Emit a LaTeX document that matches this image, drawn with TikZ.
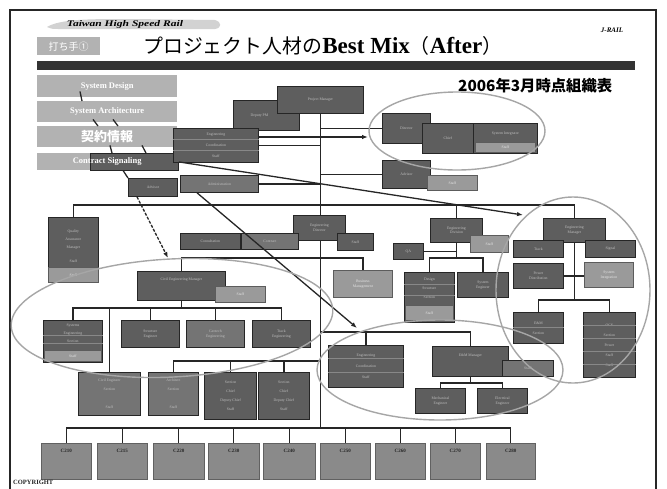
\documentclass[tikz,border=0pt]{standalone}
\usepackage{fontspec}
\setmainfont{Liberation Serif}
\newfontfamily\cjk{Noto Sans CJK JP}
\usetikzlibrary{arrows.meta,calc}
\pgfdeclarelayer{bg}
\pgfdeclarelayer{paper}
\pgfsetlayers{paper,bg,main}
\definecolor{dk}{HTML}{5E5E5E}
\definecolor{md}{HTML}{747474}
\definecolor{lt}{HTML}{9A9A9A}
\definecolor{gb}{HTML}{B2B2B2}
\definecolor{ln}{HTML}{262626}
\definecolor{ell}{HTML}{A6A6A6}
\definecolor{bt}{HTML}{8A8A8A}
\definecolor{barc}{HTML}{333333}
\newcommand\ob[7]{\node[#1,anchor=north west,minimum width=(#4-#2)*1pt,minimum height=(#5-#3)*1pt] (#6) at (#2,#3) {#7};}
\newcommand\rowln[2]{\draw[rowline] (#1.west |- 0,#2) -- (#1.east |- 0,#2);}
\tikzset{
 box/.style={draw=ln,line width=0.8pt,inner sep=0.5pt,align=center,text=white!75!black,font=\fontsize{3.8}{4.6}\selectfont},
 dbox/.style={box,fill=dk},
 mbox/.style={box,fill=md},
 lbox/.style={box,fill=lt,draw=ln!75,text=white!90!black},
 gbox/.style={inner sep=0pt,fill=gb,text=white,font=\bfseries\fontsize{8.5}{9}\selectfont},
 bbox/.style={box,fill=bt,draw=bt!70!black,line width=0.5pt,text=ln,font=\bfseries\fontsize{5}{6}\selectfont},
 tagbox/.style={inner sep=0pt,fill=gb,text=white,font=\cjk\fontsize{10}{10}\selectfont},
 conn/.style={draw=ln,line width=1.3pt},
 arr/.style={conn,-{Latex[length=6pt,width=4.5pt]}},
 darr/.style={arr,dash pattern=on 3pt off 1.5pt},
 sarr/.style={draw=ln,line width=1.3pt},
 ellip/.style={draw=ell,line width=1.4pt},
 rowline/.style={draw=ln!55,line width=0.4pt},
}
\begin{document}
\begin{tikzpicture}[x=1pt,y=-1pt]
\useasboundingbox (0,0) rectangle (667,488);
\clip (0,0) rectangle (667,488);
\begin{pgfonlayer}{paper}
\fill[white] (0,0) rectangle (667,488);
\end{pgfonlayer}
% frame
\draw[line width=2pt,draw=ln] (10,495) -- (10,10) -- (656,10) -- (656,495);
% header
\fill[gray!35] (47,27) .. controls (60,19) and (90,19) .. (130,19) -- (215,20) .. controls (222,22) and (222,28) .. (215,29) -- (60,29) .. controls (52,29) .. (47,27) -- cycle;
\node[inner sep=0pt] (tsr) at (125,24.5) {\resizebox{116pt}{6pt}{\bfseries\itshape Taiwan High Speed Rail}};
\node[inner sep=0pt,font=\bfseries\itshape\fontsize{7}{8}\selectfont] (jr) at (612,30) {J-RAIL};
\ob{tagbox}{37}{37}{100}{55}{tag}{打ち手①}
\node[anchor=west,inner sep=0pt] (title) at (143,46) {\resizebox{359pt}{!}{{\cjk\fontsize{19}{19}\selectfont プロジェクト人材の}{\bfseries\fontsize{22}{22}\selectfont Best Mix}{\cjk\fontsize{19}{19}\selectfont （}{\bfseries\fontsize{22}{22}\selectfont After}{\cjk\fontsize{19}{19}\selectfont ）}}};
\fill[barc] (37,61) rectangle (635,70);
\node[anchor=west,inner sep=0pt] (date) at (458,86) {\resizebox{154pt}{!}{\cjk\bfseries\fontsize{16}{16}\selectfont 2006年3月時点組織表}};
% left stack
\ob{gbox}{37}{75}{177}{97}{SD}{System Design}
\ob{gbox}{37}{101}{177}{122}{SA}{System Architecture}
\ob{gbox,font=\cjk\bfseries\fontsize{13}{13}\selectfont}{37}{126}{177}{147}{KJ}{契約情報}
\ob{gbox}{37}{153}{177}{170}{CS}{}
\ob{dbox}{90}{153}{178}{170}{DK}{}
\node[text=white,font=\bfseries\fontsize{8.5}{9}\selectfont,inner sep=0pt] (cst) at (CS.center) {Contract Signaling};
% top group
\ob{dbox}{233}{100}{299}{130}{B}{\hspace*{-14pt}Deputy PM}
\ob{dbox}{277}{86}{363}{113}{A}{Project Manager}
\ob{dbox,font=\fontsize{3.8}{11}\selectfont}{173}{128}{258}{162}{C}{Engineering\\Coordination\\Staff}
\rowln{C}{139}\rowln{C}{150}
\ob{dbox}{128}{178}{177}{196}{D1}{Advisor}
\ob{mbox}{180}{175}{258}{192}{D2}{Administration}
% ellipse 1 group
\ob{dbox}{382}{113}{430}{143}{T1}{Director}
\ob{dbox}{422}{123}{473}{153}{T2}{Chief}
\ob{dbox}{473}{123}{537}{153}{T3}{System Integrator\\[6pt]\,}
\ob{lbox}{475}{142}{535}{152}{T3b}{Staff}
\ob{dbox}{382}{160}{430}{188}{T4}{Advisor}
\ob{lbox}{427}{175}{477}{190}{T5}{Staff}
% middle
\ob{dbox,font=\fontsize{3.8}{8}\selectfont}{48}{217}{98}{282}{E}{Quality\\Assurance\\Manager\\[6pt]Staff\\\,}
\ob{lbox}{48}{267}{98}{282}{E2}{Staff}
\ob{dbox}{293}{215}{345}{240}{F}{Engineering\\Director}
\ob{dbox}{180}{233}{240}{249}{G1}{Consultation}
\ob{mbox}{241}{233}{298}{249}{G2}{Contract}
\ob{dbox}{337}{233}{373}{250}{F2}{Staff}
\ob{dbox}{137}{271}{225}{300}{H}{Civil Engineering Manager\\[8pt]\,}
\ob{lbox}{215}{286}{265}{302}{H2}{Staff}
\ob{lbox}{333}{270}{392}{297}{P}{Business\\Management}
\ob{dbox}{430}{218}{482}{242}{Q}{Engineering\\Division}
\ob{lbox}{470}{235}{508}{252}{Q2}{Staff}
\ob{dbox}{393}{243}{423}{259}{M}{QA}
\ob{dbox,font=\fontsize{3.8}{9}\selectfont}{404}{272}{454}{322}{N1}{Design\\Structure\\Section\\\,\\\,}
\rowln{N1}{284}\rowln{N1}{295}
\ob{lbox}{405}{305}{453}{320}{N1b}{Staff}
\ob{dbox}{457}{272}{508}{297}{N2}{System\\Engineer}
% right ellipse group
\ob{dbox}{543}{218}{605}{242}{L1}{Engineering\\Manager}
\ob{dbox}{513}{240}{563}{257}{L2}{Track}
\ob{dbox}{585}{240}{635}{257}{L3}{Signal}
\ob{dbox}{513}{263}{563}{288}{L4}{Power\\Distribution}
\ob{lbox}{584}{262}{633}{287}{L5}{System\\Integration}
\ob{dbox,font=\fontsize{3.8}{10}\selectfont}{513}{312}{563}{343}{L6}{E\&M\\Section}
\rowln{L6}{327}
\ob{dbox,font=\fontsize{3.8}{10}\selectfont}{583}{312}{635}{377}{L7}{OCS\\Section\\Power\\Staff\\Staff}
\rowln{L7}{325}\rowln{L7}{338}\rowln{L7}{351}\rowln{L7}{364}
% lower left
\ob{dbox,font=\fontsize{3.8}{8}\selectfont}{43}{320}{102}{362}{I0}{Systems\\Engineering\\Section\\\,\\\,}
\rowln{I0}{335}\rowln{I0}{343}
\ob{lbox}{44}{350}{101}{361}{I0b}{Staff}
\ob{dbox}{121}{320}{179}{347}{I1}{Structure\\Engineer}
\ob{mbox}{186}{320}{244}{347}{I2}{Geotech\\Engineering}
\ob{dbox}{252}{320}{310}{347}{I3}{Track\\Engineering}
\ob{mbox,font=\fontsize{3.8}{9}\selectfont}{78}{372}{140}{415}{J1}{Civil Engineer\\Section\\\,\\Staff}
\ob{mbox,font=\fontsize{3.8}{9}\selectfont}{148}{372}{198}{415}{J2}{Architect\\Section\\\,\\Staff}
\ob{dbox,font=\fontsize{3.8}{9}\selectfont,line width=1.2pt}{204}{372}{256}{419}{J3}{Section\\Chief\\Deputy Chief\\Staff}
\ob{dbox,font=\fontsize{3.8}{9}\selectfont}{258}{372}{309}{419}{J4}{Section\\Chief\\Deputy Chief\\Staff}
% bottom ellipse group
\ob{dbox,font=\fontsize{3.8}{11}\selectfont}{328}{345}{403}{387}{K1}{Engineering\\Coordination\\Staff}
\rowln{K1}{358}\rowln{K1}{372}
\ob{dbox}{432}{346}{508}{376}{K2}{E\&M Manager\\[8pt]\,}
\ob{mbox}{502}{360}{553}{376}{K3}{Staff}
\ob{dbox}{415}{388}{465}{413}{K4}{Mechanical\\Engineer}
\ob{dbox}{477}{388}{527}{413}{K5}{Electrical\\Engineer}
% bottom row
\foreach \xa/\xb/\lab [count=\i] in {41/91/C210,97/147/C215,153/204/C220,208/259/C230,263/315/C240,320/370/C250,375/425/C260,430/480/C270,486/535/C280}{
  \ob{bbox}{\xa}{443}{\xb}{479}{bt\i}{\lab\\[14pt]\,}
}
\node[anchor=west,inner sep=0pt,font=\bfseries\fontsize{6.5}{7}\selectfont,text=ln] (copy) at (13,482) {COPYRIGHT};
% coordinates
\coordinate (b1) at (0,205);
\coordinate (b2) at (0,258);
\coordinate (b3) at (0,300);
\coordinate (b4) at (0,308);
\coordinate (b5) at (0,361);
\coordinate (b6) at (0,332);
\coordinate (b7) at (0,383);
\coordinate (bb) at (0,428);
\coordinate (e1) at (368,137);
\coordinate (e2) at (523,215);
\coordinate (e3) at (357,328);
\coordinate (e4) at (168,258);
\begin{pgfonlayer}{bg}
\draw[conn] (A.south) -- (A.south |- bb);
\draw[conn] (C.east) -- (C.east -| A.south);
\draw[conn] (D2.east) -- (D2.east -| A.south);
\draw[conn] (T1.west -| A.south) -- (T1.west);
\draw[conn] (T4.west -| A.south) -- (T4.west);
\draw[conn] (E.north) -- (E.north |- b1) -- (L1.north |- b1) -- (L1.north);
\draw[conn] (Q.north |- b1) -- (Q.north);
\draw[conn] (H.north) -- (H.north |- b2) -- (P.north |- b2) -- (P.north);
\draw[conn] (Q.south) -- (Q.south |- b2);
\draw[conn] (N1.north) -- (N1.north |- b2) -- (N2.north |- b2) -- (N2.north);
\draw[conn] (M.east) -- (M.east -| Q.south);
\draw[conn] (L1.south) -- (L1.south |- b3);
\draw[conn] (L6.north) -- (L6.north |- b3) -- (L7.north |- b3) -- (L7.north);
\draw[conn] (L4.east) -- (L4.east -| L5.west);
\draw[conn] (H.south) -- (H.south |- b4);
\draw[conn] (I0.north) -- (I0.north |- b4) -- (I3.north |- b4) -- (I3.north);
\draw[conn] (I1.north) -- (I1.north |- b4);
\draw[conn] (I2.north) -- (I2.north |- b4);
\draw[conn] (J1.north |- b4) -- (J1.north);
\draw[conn] (J2.north) -- (J2.north |- b5) -- (b5 -| A.south);
\draw[conn] (J3.north) -- (J3.north |- b5);
\draw[conn] (J4.north) -- (J4.north |- b5);
\draw[conn] (K1.north) -- (K1.north |- b6);
\draw[conn] (b6 -| A.south) -- (K2.north |- b6) -- (K2.north);
\draw[conn] (K2.south) -- (K2.south |- b7);
\draw[conn] (K4.north) -- (K4.north |- b7) -- (K5.north |- b7) -- (K5.north);
\draw[conn] (bt1.north |- bb) -- (bt9.north |- bb);
\foreach \i in {1,...,9}{\draw[conn] (bt\i.north) -- (bt\i.north |- bb);}
\end{pgfonlayer}
% arrows on top
\draw[arr] (C.east |- e1) -- (e1);
\draw[arr] (DK.east) -- (e2);
\draw[arr] ([xshift=17pt]D2.south west) -- (e3);
\draw[darr] ([xshift=9pt]D1.south west) -- (e4);
% small marks in left stack
\draw[sarr] ($(SD.south west)+(43,-6)$) -- ([xshift=45pt]SA.north west);
\draw[sarr] ($(SA.south west)+(56,-3)$) -- ([xshift=61pt]KJ.north west);
\draw[sarr] ($(SA.south west)+(76,-3)$) -- ([xshift=81pt]KJ.north west);
\draw[sarr] ($(KJ.south west)+(73,-2)$) -- ([xshift=75pt]CS.north west);
\draw[sarr] ($(KJ.south west)+(105,-2)$) -- ([xshift=109pt]CS.north west);
\draw[sarr] ($(CS.south west)+(86,0)$) -- ([xshift=0pt]D1.north west);
% ellipses
\draw[ellip] (457,131) ellipse [x radius=88, y radius=39];
\draw[ellip,rotate around={3:(172,318)}] (172,318) ellipse [x radius=161, y radius=59];
\draw[ellip] (573,290) ellipse [x radius=77, y radius=93];
\draw[ellip] (440,370) ellipse [x radius=123, y radius=50];
\end{tikzpicture}
\end{document}
